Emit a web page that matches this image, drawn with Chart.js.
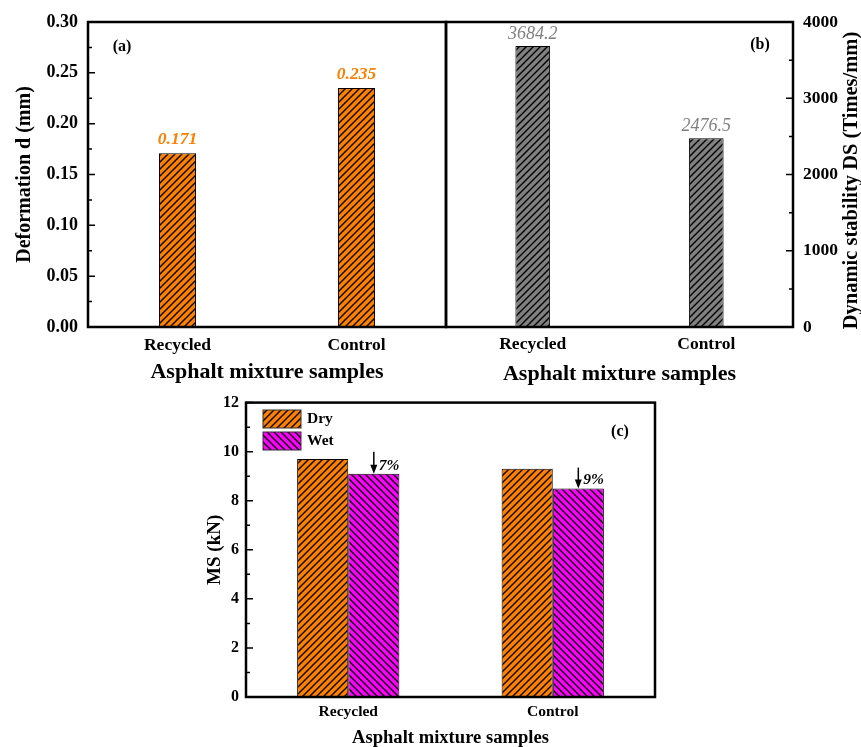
<!DOCTYPE html>
<html>
<head>
<meta charset="utf-8">
<script src="https://cdn.jsdelivr.net/npm/chart.js@4.4.1/dist/chart.umd.min.js"></script>
<style>
  html, body { margin: 0; padding: 0; background: #fff; overflow: hidden; width: 861px; height: 747px; }
  canvas { position: absolute; }
</style>
</head>
<body>
<canvas id="chartA" width="450" height="390" style="left:0;top:0"></canvas>
<canvas id="chartB" width="421" height="390" style="left:440px;top:0"></canvas>
<canvas id="chartC" width="470" height="366" style="left:200px;top:386px"></canvas>
<script>
// data
const samples = ['Recycled', 'Control'];
const deformation = [0.171, 0.235];      // (a) mm
const stability = [3684.2, 2476.5];      // (b) times/mm
const msDry = [9.7, 9.3];                // (c) kN
const msWet = [9.1, 8.5];
const dropLabels = ['7%', '9%'];
const arrowFrom = [10.0, 9.35];          // where the drop arrows start

const SERIF = "'Liberation Serif', 'Times New Roman', serif";
Chart.defaults.font.family = SERIF;
Chart.defaults.color = '#000';

function hatch(fill, dir, size) {
  const c = document.createElement('canvas');
  c.width = c.height = size;
  const g = c.getContext('2d');
  g.fillStyle = fill;
  g.fillRect(0, 0, size, size);
  g.strokeStyle = '#000';
  g.lineWidth = 1.4;
  g.beginPath();
  if (dir === '/') {
    g.moveTo(-1, size + 1); g.lineTo(size + 1, -1);
    g.moveTo(-1, 1); g.lineTo(1, -1);
    g.moveTo(size - 1, size + 1); g.lineTo(size + 1, size - 1);
  } else {
    g.moveTo(-1, -1); g.lineTo(size + 1, size + 1);
    g.moveTo(size - 1, -1); g.lineTo(size + 1, 1);
    g.moveTo(-1, size - 1); g.lineTo(1, size + 1);
  }
  g.stroke();
  return g.createPattern(c, 'repeat');
}

// box around the plot, inward ticks on the value axis, panel tag
const framePlugin = {
  id: 'frame',
  afterDatasetsDraw(chart, args, opts) {
    const { ctx, chartArea: a } = chart;
    const ys = chart.scales.y;
    ctx.save();
    ctx.strokeStyle = '#000';
    ctx.lineWidth = 2.5;
    ctx.strokeRect(a.left, a.top, a.right - a.left, a.bottom - a.top);
    ctx.lineWidth = 1.5;
    const x0 = opts.side === 'right' ? a.right : a.left;
    const dir = opts.side === 'right' ? -1 : 1;
    const ticks = ys.ticks;
    ctx.beginPath();
    ticks.forEach((t, i) => {
      const y = ys.getPixelForValue(t.value);
      ctx.moveTo(x0, y); ctx.lineTo(x0 + dir * 7, y);
      if (i < ticks.length - 1) {
        const ym = ys.getPixelForValue((t.value + ticks[i + 1].value) / 2);
        ctx.moveTo(x0, ym); ctx.lineTo(x0 + dir * 4, ym);
      }
    });
    ctx.stroke();
    ctx.font = 'bold 16px ' + SERIF;
    ctx.fillStyle = '#000';
    ctx.textAlign = 'center';
    ctx.textBaseline = 'middle';
    ctx.fillText(opts.tag, opts.tagX, opts.tagY);
    if (opts.rightTitle) {
      ctx.translate(chart.width - 9, (a.top + a.bottom) / 2 + 6);
      ctx.rotate(-Math.PI / 2);
      ctx.font = 'bold 20.5px ' + SERIF;
      ctx.fillText(opts.rightTitle, 0, 0);
    }
    ctx.restore();
  }
};

const valueLabels = {
  id: 'valueLabels',
  afterDatasetsDraw(chart, args, opts) {
    const { ctx } = chart;
    const ds = chart.data.datasets[0];
    ctx.save();
    ctx.font = opts.font;
    ctx.fillStyle = opts.color;
    ctx.textAlign = 'center';
    ctx.textBaseline = 'middle';
    chart.getDatasetMeta(0).data.forEach((bar, i) => {
      ctx.fillText(ds.data[i].toFixed(opts.digits), bar.x, bar.y - opts.gap);
    });
    ctx.restore();
  }
};

const dropArrows = {
  id: 'dropArrows',
  afterDatasetsDraw(chart) {
    const { ctx } = chart;
    const ys = chart.scales.y;
    ctx.save();
    ctx.strokeStyle = '#000';
    ctx.fillStyle = '#000';
    ctx.lineWidth = 1.5;
    chart.getDatasetMeta(1).data.forEach((bar, i) => {
      const x = bar.x;
      const y0 = ys.getPixelForValue(arrowFrom[i]);
      const y1 = bar.y;
      ctx.beginPath();
      ctx.moveTo(x, y0); ctx.lineTo(x, y1 - 6);
      ctx.stroke();
      ctx.beginPath();
      ctx.moveTo(x - 3.5, y1 - 9); ctx.lineTo(x + 3.5, y1 - 9); ctx.lineTo(x, y1);
      ctx.closePath();
      ctx.fill();
      ctx.font = 'italic bold 15.5px ' + SERIF;
      ctx.textAlign = 'left';
      ctx.textBaseline = 'middle';
      ctx.fillText(dropLabels[i], x + 5, y1 - 8);
    });
    ctx.restore();
  }
};

const manualLegend = {
  id: 'manualLegend',
  afterDatasetsDraw(chart) {
    const { ctx } = chart;
    ctx.save();
    chart.data.datasets.forEach((ds, i) => {
      const x = 63, y = 24 + i * 22;
      ctx.fillStyle = ds.backgroundColor;
      ctx.fillRect(x, y, 38, 18);
      ctx.strokeStyle = '#333';
      ctx.lineWidth = 1;
      ctx.strokeRect(x, y, 38, 18);
      ctx.fillStyle = '#000';
      ctx.font = 'bold 15.5px ' + SERIF;
      ctx.textAlign = 'left';
      ctx.textBaseline = 'middle';
      ctx.fillText(ds.label, x + 44, y + 9);
    });
    ctx.restore();
  }
};

function xAxis(height, tickFont, tickPad, titleFont, titlePad) {
  return {
    grid: { display: false, drawTicks: false },
    border: { display: false },
    ticks: { font: { size: tickFont, weight: 'bold' }, padding: tickPad },
    title: { display: true, text: 'Asphalt mixture samples', font: { size: titleFont, weight: 'bold' }, padding: { top: 0, bottom: titlePad } },
    afterFit: (s) => { s.height = height; }
  };
}

// (a) deformation
new Chart('chartA', {
  type: 'bar',
  data: {
    labels: samples,
    datasets: [{
      data: deformation,
      backgroundColor: hatch('#FF8000', '/', 7),
      borderColor: '#000',
      borderWidth: 1,
      barPercentage: 0.207,
      categoryPercentage: 1
    }]
  },
  options: {
    responsive: false,
    animation: false,
    events: [],
    layout: { padding: { top: 22, right: 4, left: 0, bottom: 0 } },
    plugins: {
      legend: { display: false },
      tooltip: { enabled: false },
      frame: { side: 'left', tag: '(a)', tagX: 122, tagY: 47 },
      valueLabels: { font: 'italic bold 17.5px ' + SERIF, color: '#FF8000', digits: 3, gap: 14 }
    },
    scales: {
      x: xAxis(63, 17.5, 8, 22, 4),
      y: {
        min: 0, max: 0.30,
        grid: { display: false, drawTicks: false },
        border: { display: false },
        ticks: { stepSize: 0.05, font: { size: 18, weight: 'bold' }, padding: 10, callback: (v) => v.toFixed(2) },
        title: { display: true, text: 'Deformation d (mm)', font: { size: 20, weight: 'bold' }, padding: { top: 13, bottom: 0 } },
        afterFit: (s) => { s.width = 88; }
      }
    }
  },
  plugins: [framePlugin, valueLabels]
});

// (b) dynamic stability
new Chart('chartB', {
  type: 'bar',
  data: {
    labels: samples,
    datasets: [{
      data: stability,
      backgroundColor: hatch('#808080', '/', 7),
      borderColor: '#000',
      borderWidth: 1,
      barPercentage: 0.2,
      categoryPercentage: 1
    }]
  },
  options: {
    responsive: false,
    animation: false,
    events: [],
    layout: { padding: { top: 22, right: 0, left: 6, bottom: 0 } },
    plugins: {
      legend: { display: false },
      tooltip: { enabled: false },
      frame: { side: 'right', tag: '(b)', tagX: 320, tagY: 45, rightTitle: 'Dynamic stability DS (Times/mm)' },
      valueLabels: { font: 'italic 18px ' + SERIF, color: '#808080', digits: 1, gap: 12 }
    },
    scales: {
      x: xAxis(63, 17.5, 7, 22, 2),
      y: {
        position: 'right',
        min: 0, max: 4000,
        grid: { display: false, drawTicks: false },
        border: { display: false },
        ticks: { stepSize: 1000, font: { size: 17.5, weight: 'bold' }, padding: 10, callback: (v) => String(v) },
        afterFit: (s) => { s.width = 68; }
      }
    }
  },
  plugins: [framePlugin, valueLabels]
});

// (c) Marshall stability, dry vs wet
new Chart('chartC', {
  type: 'bar',
  data: {
    labels: samples,
    datasets: [
      { label: 'Dry', data: msDry, backgroundColor: hatch('#FF8000', '/', 7), borderColor: '#000', borderWidth: 1 },
      { label: 'Wet', data: msWet, backgroundColor: hatch('#FF00FF', '\\', 7), borderColor: '#000', borderWidth: 1 }
    ]
  },
  options: {
    responsive: false,
    animation: false,
    events: [],
    datasets: { bar: { barPercentage: 1, categoryPercentage: 0.5 } },
    layout: { padding: { top: 8, right: 15, left: 0, bottom: 0 } },
    plugins: {
      legend: { display: false },
      tooltip: { enabled: false },
      frame: { side: 'left', tag: '(c)', tagX: 420, tagY: 46 }
    },
    scales: {
      x: xAxis(55, 15.5, 6, 18.6, 2.5),
      y: {
        min: 0, max: 12,
        grid: { display: false, drawTicks: false },
        border: { display: false },
        ticks: { stepSize: 2, font: { size: 16, weight: 'bold' }, padding: 7 },
        title: { display: true, text: 'MS (kN)', font: { size: 19, weight: 'bold' }, padding: { top: 3.6, bottom: 0 } },
        afterFit: (s) => { s.width = 46; }
      }
    }
  },
  plugins: [framePlugin, dropArrows, manualLegend]
});
</script>
</body>
</html>
